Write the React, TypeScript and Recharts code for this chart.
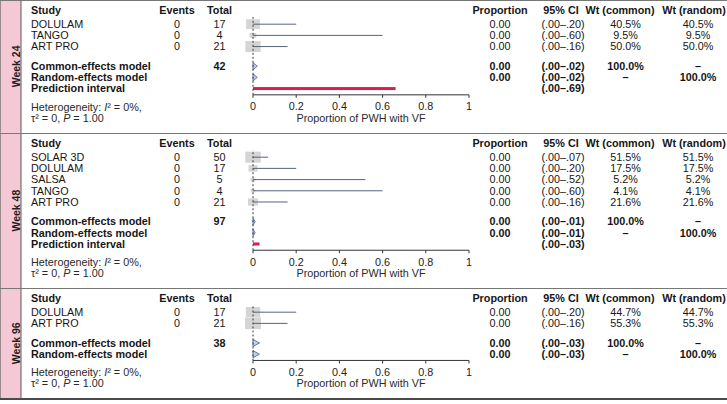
import { ComposedChart, Bar, XAxis, YAxis, ReferenceLine } from 'recharts'

// Week 24
const studies24 = ['DOLULAM', 'TANGO', 'ART PRO']
const events24 = [0, 0, 0]
const totals24 = [17, 4, 21]
const est24 = [0, 0, 0]
const upper24 = [0.2, 0.6, 0.16]
const ciText24 = ['(.00–.20)', '(.00–.60)', '(.00–.16)']
const weights24 = [40.5, 9.5, 50.0]
const pooledTotal24 = 42
const pooledUpper24 = [0.02, 0.02]
const pooledCi24 = ['(.00–.02)', '(.00–.02)']
const predUpper24 = 0.66
const predCi24 = '(.00–.69)'

// Week 48
const studies48 = ['SOLAR 3D', 'DOLULAM', 'SALSA', 'TANGO', 'ART PRO']
const events48 = [0, 0, 0, 0, 0]
const totals48 = [50, 17, 5, 4, 21]
const est48 = [0, 0, 0, 0, 0]
const upper48 = [0.07, 0.2, 0.52, 0.6, 0.16]
const ciText48 = ['(.00–.07)', '(.00–.20)', '(.00–.52)', '(.00–.60)', '(.00–.16)']
const weights48 = [51.5, 17.5, 5.2, 4.1, 21.6]
const pooledTotal48 = 97
const pooledUpper48 = [0.01, 0.01]
const pooledCi48 = ['(.00–.01)', '(.00–.01)']
const predUpper48 = 0.03
const predCi48 = '(.00–.03)'

// Week 96
const studies96 = ['DOLULAM', 'ART PRO']
const events96 = [0, 0]
const totals96 = [17, 21]
const est96 = [0, 0]
const upper96 = [0.2, 0.16]
const ciText96 = ['(.00–.20)', '(.00–.16)']
const weights96 = [44.7, 55.3]
const pooledTotal96 = 38
const pooledUpper96 = [0.03, 0.03]
const pooledCi96 = ['(.00–.03)', '(.00–.03)']

const xTicks = [0, 0.2, 0.4, 0.6, 0.8, 1]

const FONT = '"Liberation Sans", Arial, sans-serif'
const FS = 10.8
const ROW = 11.2
const TOP = 17
const AXIS_H = 38
const GAP = 0.75
const TEXT = '#161616'

// column x positions
const COL = {
  study: 31,
  events: 177,
  total: 219.5,
  prop: 500,
  ci: 563,
  wc: 625.5,
  wr: 698,
}

interface Row {
  y: number
  kind: 'study' | 'common' | 'random' | 'pi'
  label: string
  events?: string
  total?: string
  prop?: string
  ci: string
  wc?: string
  wr?: string
  lo: number
  hi: number
  w?: number
}

interface PanelDef {
  week: string
  studies: string[]
  events: number[]
  totals: number[]
  est: number[]
  upper: number[]
  ciText: string[]
  weights: number[]
  pooledTotal: number
  pooledUpper: number[]
  pooledCi: string[]
  predUpper?: number
  predCi?: string
}

function buildRows(p: PanelDef): Row[] {
  const n = p.studies.length
  const rows: Row[] = p.studies.map((s, i) => ({
    y: i,
    kind: 'study',
    label: s,
    events: String(p.events[i]),
    total: String(p.totals[i]),
    prop: p.est[i].toFixed(2),
    ci: p.ciText[i],
    wc: p.weights[i].toFixed(1) + '%',
    wr: p.weights[i].toFixed(1) + '%',
    lo: p.est[i],
    hi: p.upper[i],
    w: p.weights[i] / 100,
  }))
  rows.push({
    y: n + GAP,
    kind: 'common',
    label: 'Common-effects model',
    total: String(p.pooledTotal),
    prop: '0.00',
    ci: p.pooledCi[0],
    wc: '100.0%',
    wr: '–',
    lo: 0,
    hi: p.pooledUpper[0],
  })
  rows.push({
    y: n + GAP + 1,
    kind: 'random',
    label: 'Random-effects model',
    prop: '0.00',
    ci: p.pooledCi[1],
    wc: '–',
    wr: '100.0%',
    lo: 0,
    hi: p.pooledUpper[1],
  })
  if (p.predUpper !== undefined) {
    rows.push({
      y: n + GAP + 2,
      kind: 'pi',
      label: 'Prediction interval',
      ci: p.predCi || '',
      lo: 0,
      hi: p.predUpper,
    })
  }
  return rows
}

const RowShape = (props: any) => {
  const { x, y, width, height, payload } = props
  if (!payload || !Number.isFinite(x) || !Number.isFinite(y)) return <g />
  const r = payload as Row
  const cy = y + height / 2
  const base = cy + 3.8
  const bold = r.kind !== 'study'
  const tProps = { fontFamily: FONT, fontSize: FS, fill: TEXT, fontWeight: bold ? 700 : 400 }

  let mark = null
  if (r.kind === 'study') {
    const side = 21.5 * Math.sqrt(r.w || 0)
    const h = side * 0.72
    mark = (
      <g>
        <rect x={x - side / 2} y={cy - h / 2} width={side} height={h} fill="#d5d5d5" />
        <line x1={x} x2={x + width} y1={cy} y2={cy} stroke="#56637a" strokeWidth={1} />
      </g>
    )
  } else if (r.kind === 'pi') {
    mark = <rect x={x} y={cy - 1.5} width={width} height={3} fill="#d61f4c" />
  } else {
    const hh = 3.5
    mark = (
      <polygon
        points={`${x},${cy - hh} ${x + width},${cy} ${x},${cy + hh}`}
        fill="#c3d0ec"
        stroke="#5a6a9c"
        strokeWidth={0.9}
      />
    )
  }

  return (
    <g>
      {mark}
      <text x={COL.study} y={base} {...tProps}>{r.label}</text>
      {r.events && <text x={COL.events} y={base} textAnchor="middle" {...tProps}>{r.events}</text>}
      {r.total && <text x={COL.total} y={base} textAnchor="middle" {...tProps}>{r.total}</text>}
      {r.prop && <text x={COL.prop} y={base} textAnchor="middle" {...tProps}>{r.prop}</text>}
      <text x={COL.ci} y={base} textAnchor="middle" {...tProps}>{r.ci}</text>
      {r.wc && <text x={COL.wc} y={base} textAnchor="middle" {...tProps}>{r.wc}</text>}
      {r.wr && <text x={COL.wr} y={base} textAnchor="middle" {...tProps}>{r.wr}</text>}
    </g>
  )
}

function panelHeight(rows: Row[]) {
  const last = rows[rows.length - 1].y
  return TOP + (last + 1.2) * ROW + AXIS_H
}

function Panel({ def, top }: { def: PanelDef; top: number }) {
  const rows = buildRows(def)
  const last = rows[rows.length - 1].y
  const plotH = (last + 1.2) * ROW
  const H = TOP + plotH + AXIS_H
  const axisY = TOP + plotH
  const hdr = { fontFamily: FONT, fontSize: FS, fill: TEXT, fontWeight: 700 }
  const foot = { fontFamily: FONT, fontSize: FS, fill: '#2a2a2a' }

  return (
    <div style={{ position: 'absolute', left: 0, top, width: 727, height: H }}>
      <div style={{ position: 'absolute', left: 0, top: 0 }}>
        <ComposedChart
          width={727}
          height={H}
          data={rows}
          layout="vertical"
          margin={{ top: TOP, right: 258, bottom: 0, left: 253 }}
        >
          <XAxis
            type="number"
            domain={[0, 1]}
            ticks={xTicks}
            interval={0}
            height={AXIS_H}
            tickSize={3}
            tickMargin={5}
            axisLine={{ stroke: '#333' }}
            tickLine={{ stroke: '#333' }}
            tick={{ fill: '#222', fontSize: FS, fontFamily: FONT }}
          />
          <YAxis type="number" dataKey="y" domain={[-0.65, last + 0.55]} hide />
          <Bar
            dataKey={(r: Row) => [r.lo, r.hi]}
            barSize={11}
            shape={<RowShape />}
            isAnimationActive={false}
          />
          <ReferenceLine x={0} stroke="#3a3a3a" strokeDasharray="2 2" />
        </ComposedChart>
      </div>
      <svg
        width={727}
        height={H}
        style={{ position: 'absolute', left: 0, top: 0, pointerEvents: 'none' }}
      >
        <rect x={0} y={0} width={21} height={H} fill="#f4c8d4" />
        <line x1={21} x2={21} y1={0} y2={H} stroke="#5a5a5a" strokeWidth={1} />
        <line x1={0.5} x2={0.5} y1={0} y2={H} stroke="#9a8a8e" strokeWidth={1} />
        <text
          transform={`translate(15.5, ${H / 2}) rotate(-90)`}
          textAnchor="middle"
          dominantBaseline="central"
          fontFamily={FONT}
          fontSize={10.5}
          fontWeight={700}
          fill="#1e1e1e"
        >
          {def.week}
        </text>
        <text x={COL.study} y={13.8} {...hdr}>Study</text>
        <text x={COL.events} y={13.8} textAnchor="middle" {...hdr}>Events</text>
        <text x={COL.total} y={13.8} textAnchor="middle" {...hdr}>Total</text>
        <text x={COL.prop} y={13.8} textAnchor="middle" {...hdr}>Proportion</text>
        <text x={561} y={13.8} textAnchor="middle" {...hdr}>95% CI</text>
        <text x={620} y={13.8} textAnchor="middle" {...hdr}>Wt (common)</text>
        <text x={694} y={13.8} textAnchor="middle" {...hdr}>Wt (random)</text>
        <text x={COL.study} y={axisY + 15.7} {...foot}>
          Heterogeneity: <tspan fontStyle="italic">I</tspan>² = 0%,
        </text>
        <text x={COL.study} y={axisY + 26.7} {...foot}>
          τ² = 0, <tspan fontStyle="italic">P</tspan> = 1.00
        </text>
        <text x={361} y={axisY + 26.7} textAnchor="middle" {...foot}>
          Proportion of PWH with VF
        </text>
      </svg>
    </div>
  )
}

const panels: PanelDef[] = [
  {
    week: 'Week 24',
    studies: studies24,
    events: events24,
    totals: totals24,
    est: est24,
    upper: upper24,
    ciText: ciText24,
    weights: weights24,
    pooledTotal: pooledTotal24,
    pooledUpper: pooledUpper24,
    pooledCi: pooledCi24,
    predUpper: predUpper24,
    predCi: predCi24,
  },
  {
    week: 'Week 48',
    studies: studies48,
    events: events48,
    totals: totals48,
    est: est48,
    upper: upper48,
    ciText: ciText48,
    weights: weights48,
    pooledTotal: pooledTotal48,
    pooledUpper: pooledUpper48,
    pooledCi: pooledCi48,
    predUpper: predUpper48,
    predCi: predCi48,
  },
  {
    week: 'Week 96',
    studies: studies96,
    events: events96,
    totals: totals96,
    est: est96,
    upper: upper96,
    ciText: ciText96,
    weights: weights96,
    pooledTotal: pooledTotal96,
    pooledUpper: pooledUpper96,
    pooledCi: pooledCi96,
  },
]

export default function App() {
  const tops: number[] = []
  let acc = 0
  panels.forEach((p) => {
    tops.push(acc)
    acc += panelHeight(buildRows(p))
  })

  return (
    <div style={{ position: 'absolute', left: 0, top: 0, width: 727, height: 404, background: '#fff' }}>
      {panels.map((p, i) => (
        <Panel key={p.week} def={p} top={tops[i]} />
      ))}
      {tops.map((t) => (
        <div
          key={t}
          style={{ position: 'absolute', left: 0, top: t, width: 727, height: 1, background: '#777' }}
        />
      ))}
      <div style={{ position: 'absolute', left: 0, top: acc - 1, width: 727, height: 2, background: '#4a4a4a' }} />
    </div>
  )
}
